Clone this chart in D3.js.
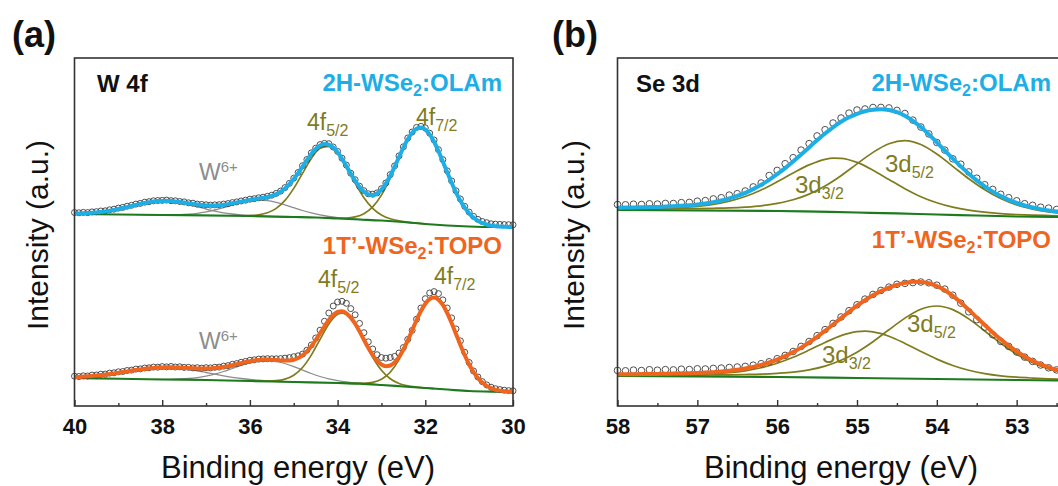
<!DOCTYPE html>
<html><head><meta charset="utf-8">
<script src="https://cdn.jsdelivr.net/npm/d3@7"></script>
<style>body{margin:0;background:#fff}svg{display:block}</style>
</head><body>
<svg id="chart" width="1058" height="486"></svg>
<script>
// ---------------- DATA (intensity in a.u.) ----------------
const energyW = [40,39.9,39.8,39.7,39.6,39.5,39.4,39.3,39.2,39.1,39,38.9,38.8,38.7,38.6,38.5,38.4,38.3,38.2,38.1,38,37.9,37.8,37.7,37.6,37.5,37.4,37.3,37.2,37.1,37,36.9,36.8,36.7,36.6,36.5,36.4,36.3,36.2,36.1,36,35.9,35.8,35.7,35.6,35.5,35.4,35.3,35.2,35.1,35,34.9,34.8,34.7,34.6,34.5,34.4,34.3,34.2,34.1,34,33.9,33.8,33.7,33.6,33.5,33.4,33.3,33.2,33.1,33,32.9,32.8,32.7,32.6,32.5,32.4,32.3,32.2,32.1,32,31.9,31.8,31.7,31.6,31.5,31.4,31.3,31.2,31.1,31,30.9,30.8,30.7,30.6,30.5,30.4,30.3,30.2,30.1,30];

// W 4f, 2H-WSe2:OLAm
const w2hFit = [192.4,192.5,192.7,192.9,193.2,193.6,194.0,194.6,195.3,196.1,197.0,198.0,198.9,200.1,201.1,202.1,203.1,203.8,204.5,204.9,205.1,205.2,204.9,204.6,204.0,203.4,202.7,202.1,201.4,200.9,200.6,200.5,200.5,200.8,201.2,201.9,202.8,203.6,204.4,205.3,206.1,206.8,207.5,208.2,209.0,210.2,211.9,214.3,217.6,221.8,226.9,232.9,239.3,245.9,252.0,257.1,260.5,261.9,261.3,258.4,253.7,247.3,239.9,232.4,225.3,219.0,214.4,211.6,210.9,212.5,216.4,222.4,230.2,239.2,248.8,258.3,266.7,273.2,277.2,278.4,276.4,271.6,264.2,254.9,244.5,233.7,223.3,213.7,205.3,198.3,192.7,188.4,185.3,183.0,181.5,180.4,179.8,179.5,179.3,179.1,179.0];
const w2hObs = [193.5,193.2,193.6,193.4,194.1,194.3,195.0,195.2,196.2,196.8,197.9,198.6,199.8,200.7,201.9,202.6,203.8,204.3,205.2,205.5,205.6,205.9,205.3,205.2,204.5,204.1,203.2,202.8,201.9,201.6,201.2,200.9,201.1,201.3,201.9,202.4,203.4,204.1,205.0,205.8,206.8,207.3,208.2,208.8,209.7,210.8,212.6,214.9,218.4,222.6,227.8,233.5,240.3,246.5,253.1,257.8,261.4,262.6,262.3,259.0,254.6,247.8,240.9,232.8,226.3,219.8,215.3,212.2,211.8,213.1,217.3,223.0,231.4,240.1,250.1,259.2,268.0,274.0,278.6,279.6,278.1,272.8,266.0,256.3,246.4,235.2,225.1,215.2,207.0,199.6,193.9,189.6,186.6,184.5,183.3,182.2,181.8,181.6,181.4,181.3,181.2];
const w2hBase = [[40,192],[38,191],[36,190],[35,189],[34.5,188.5],[34,187.5],[33.5,186.5],[33,185.5],[32.5,184],[32,182],[31.5,180.5],[31,179.5],[30.5,179],[30,179]];
const w2hW6a = [[40,192.4],[39.8,192.7],[39.6,193.2],[39.4,194.0],[39.2,195.3],[39,197.0],[38.8,198.9],[38.6,201.1],[38.4,203.0],[38.2,204.4],[38,205.0],[37.8,204.6],[37.6,203.4],[37.4,201.5],[37.2,199.3],[37,197.0],[36.8,194.9],[36.6,193.2],[36.4,192.0],[36.2,191.1],[36,190.5],[35.8,190.1],[35.6,189.7],[35.4,189.45],[35.2,189.2]];
const w2hW6b = [[38.6,191.3],[38.4,191.25],[38.2,191.2],[38,191.1],[37.8,191.2],[37.6,191.4],[37.4,191.9],[37.2,192.7],[37,194.1],[36.8,196.0],[36.6,198.3],[36.4,200.9],[36.2,203.3],[36,205.1],[35.8,205.8],[35.6,205.3],[35.4,203.6],[35.2,201.2],[35,198.3],[34.8,195.5],[34.6,193.1],[34.4,191.1],[34.2,189.5],[34,188.35],[33.8,187.5],[33.6,186.9],[33.4,186.4],[33.2,185.9]];
const w2h4f52 = [[36.2,190.2],[36,190.5],[35.8,191.2],[35.6,193.2],[35.4,197.6],[35.2,205.6],[35,217.6],[34.8,232.6],[34.6,247.5],[34.4,257.7],[34.2,259.6],[34,252.5],[33.8,238.7],[33.6,222.7],[33.4,208.3],[33.2,197.7],[33,191.0],[32.8,187.2],[32.6,185.1],[32.4,183.9],[32.2,182.9],[32,182.0]];
const w2h4f72 = [[34.2,188.0],[34,187.8],[33.8,187.9],[33.6,189.1],[33.4,192.3],[33.2,199.1],[33,210.9],[32.8,227.9],[32.6,248.0],[32.4,266.4],[32.2,277.2],[32.1,278.4],[32,276.4],[31.8,264.2],[31.6,244.5],[31.4,223.3],[31.2,205.3],[31,192.7],[30.8,185.3],[30.6,181.5],[30.4,179.8],[30.2,179.3],[30,179.0]];

// W 4f, 1T'-WSe2:TOPO
const w1tFit = [29.0,29.1,29.4,29.7,30.0,30.4,30.9,31.4,32.0,32.6,33.3,34.0,34.6,35.4,36.0,36.6,37.2,37.7,38.1,38.4,38.6,38.7,38.7,38.6,38.4,38.2,37.9,37.7,37.5,37.4,37.5,37.6,37.9,38.4,39.1,39.9,40.9,41.9,42.9,44.0,44.9,45.6,46.1,46.4,46.5,46.3,45.9,45.6,45.4,45.6,46.3,48.0,50.7,54.6,59.8,66.0,72.8,79.7,86.0,91.0,94.0,94.7,92.7,88.4,82.2,74.6,66.3,58.2,51.0,45.3,41.5,39.8,40.5,43.6,49.0,56.5,65.6,75.6,85.8,95.0,102.3,107.0,108.4,106.4,101.1,93.0,83.1,72.1,61.1,50.7,41.5,34.0,28.0,23.4,20.1,17.8,16.3,15.4,14.8,14.4,14.2];
const w1tObs = [29.8,29.5,30.2,30.0,30.9,31.0,31.8,31.9,32.9,33.2,34.2,34.5,35.5,35.9,36.9,37.1,38.0,38.2,38.9,38.8,39.4,39.1,39.5,39.0,39.2,38.6,38.7,38.1,38.3,37.9,38.3,38.1,38.7,38.9,39.9,40.4,41.7,42.4,43.7,44.6,45.7,46.2,46.9,47.1,47.3,47.2,47.2,47.4,47.9,48.4,49.3,50.2,51.9,55.8,61.0,68.0,75.8,84.7,93.0,100.0,104.0,104.7,102.7,97.4,91.2,82.6,73.3,64.2,57.0,51.3,48.5,47.8,48.5,49.6,53.0,58.5,66.6,75.6,86.8,98.0,107.3,113.0,114.4,112.4,106.1,98.0,88.1,77.1,65.1,53.7,43.5,35.0,29.0,24.4,21.1,18.8,17.3,16.4,15.8,15.4,15.2];
const w1tBase = [[40,28],[39,27.25],[38,26.5],[37,26],[36,25],[35,24],[34,23],[33.5,22.3],[33,21],[32.5,19.5],[32,18],[31.5,16.5],[31,15],[30.5,14.3],[30,14]];
const w1tW6a = [[40,29.0],[39.8,29.4],[39.6,30.0],[39.4,30.9],[39.2,32.0],[39,33.25],[38.8,34.6],[38.6,36.0],[38.4,37.2],[38.2,38.05],[38,38.4],[37.8,38.3],[37.6,37.7],[37.4,36.6],[37.2,35.2],[37,33.5],[36.8,31.8],[36.6,30.2],[36.4,28.7],[36.2,27.5],[36,26.5],[35.8,25.8],[35.6,25.2],[35.4,24.7],[35.2,24.4],[35,24.1],[34.8,23.85]];
const w1tW6b = [[38.2,26.7],[38,26.65],[37.8,26.7],[37.6,27.0],[37.4,27.5],[37.2,28.45],[37,29.9],[36.8,31.9],[36.6,34.5],[36.4,37.5],[36.2,40.6],[36,43.3],[35.8,45.1],[35.6,45.6],[35.4,44.7],[35.2,42.5],[35,39.4],[34.8,35.9],[34.6,32.5],[34.4,29.5],[34.2,27.1],[34,25.35],[33.8,24.0],[33.6,23.1],[33.4,22.4],[33.2,21.7],[33,21.06]];
const w1t4f52 = [[36,25.0],[35.8,24.9],[35.6,24.9],[35.4,25.3],[35.2,26.9],[35,30.8],[34.8,38.5],[34.6,50.85],[34.4,66.65],[34.2,82.1],[34,91.7],[33.9,92.9],[33.8,91.4],[33.6,81.3],[33.4,65.3],[33.2,48.8],[33,35.7],[32.8,27.2],[32.6,22.5],[32.4,20.1],[32.2,18.9],[32,18.1],[31.8,17.4]];
const w1t4f72 = [[33.8,22.8],[33.6,22.6],[33.4,22.7],[33.2,23.6],[33,26.7],[32.8,33.7],[32.6,46.3],[32.4,64.7],[32.2,85.5],[32,102.3],[31.8,108.4],[31.6,101.1],[31.4,83.1],[31.2,61.1],[31,41.5],[30.8,28.0],[30.6,20.1],[30.4,16.3],[30.2,14.8],[30,14.2]];

const energySe = [58,57.9,57.8,57.7,57.6,57.5,57.4,57.3,57.2,57.1,57,56.9,56.8,56.7,56.6,56.5,56.4,56.3,56.2,56.1,56,55.9,55.8,55.7,55.6,55.5,55.4,55.3,55.2,55.1,55,54.9,54.8,54.7,54.6,54.5,54.4,54.3,54.2,54.1,54,53.9,53.8,53.7,53.6,53.5,53.4,53.3,53.2,53.1,53,52.9,52.8,52.7,52.6,52.5,52.4,52.3,52.2,52.1,52];

// Se 3d, 2H-WSe2:OLAm
const se2hFit = [198.3,198.4,198.5,198.7,198.9,199.1,199.4,199.7,200.2,200.8,201.6,202.6,203.9,205.5,207.6,210.1,213.2,216.9,221.2,226.2,231.8,237.9,244.5,251.5,258.6,265.8,272.5,278.7,284.2,288.7,292.2,294.8,296.3,296.8,296.0,293.9,290.3,285.2,278.9,271.6,263.7,255.5,247.4,239.6,232.3,225.6,219.6,214.4,209.9,206.1,203.0,200.5,198.5,196.9,195.6,194.6,193.8,193.1,192.6,192.1,191.7];
const se2hObs = [201.5,201.2,201.8,201.5,202.2,201.9,202.6,202.5,203.4,203.6,204.8,205.4,207.1,208.3,210.9,212.3,215.0,219.1,223.0,230.5,235.6,242.3,248.3,255.9,262.4,270.1,276.3,283.0,288.0,292.9,296.0,297.0,298.5,298.6,298.1,295.6,292.5,285.9,279.0,272.1,263.5,255.9,247.2,241.8,234.1,227.8,221.3,216.6,211.7,208.3,205.2,202.3,200.7,198.8,197.9,196.5,196.0,195.0,194.8,194.0,193.8];
const se2hBase = [[58,196],[57,195.5],[56,195],[55.5,194.3],[55,193.5],[54.5,192.6],[54,191.5],[53.5,190.5],[53,189.5],[52.5,189],[52,188.5]];
const se2h3d52 = [[58,197.0],[57.8,197.05],[57.6,197.1],[57.4,197.15],[57.2,197.3],[57,197.4],[56.8,197.7],[56.6,198.1],[56.4,198.9],[56.2,200.2],[56,202.6],[55.8,206.2],[55.6,211.9],[55.4,220.0],[55.2,230.3],[55,242.1],[54.8,253.6],[54.6,262.3],[54.4,265.4],[54.2,261.5],[54,252.0],[53.8,239.7],[53.6,227.2],[53.4,216.2],[53.2,207.4],[53,201.0],[52.8,196.9],[52.6,194.2],[52.4,192.6],[52.2,191.5],[52,190.8]];
const se2h3d32 = [[58,197.3],[57.8,197.4],[57.6,197.6],[57.4,197.9],[57.2,198.55],[57,199.7],[56.8,201.6],[56.6,204.8],[56.4,209.5],[56.2,216.05],[56,224.2],[55.8,233.0],[55.6,241.1],[55.4,246.7],[55.3,247.8],[55.2,247.65],[55,243.6],[54.8,235.8],[54.6,226.5],[54.4,217.3],[54.2,209.3],[54,203.2],[53.8,198.8],[53.6,195.8],[53.4,193.8],[53.2,192.4],[53,191.5],[52.8,190.9],[52.6,190.5],[52.4,190.1],[52.2,189.7],[52,189.4]];

// Se 3d, 1T'-WSe2:TOPO
const se1tFit = [31.7,31.8,31.8,31.9,32.0,32.1,32.2,32.4,32.5,32.7,33.0,33.4,33.8,34.5,35.2,36.2,37.5,39.1,41.1,43.5,46.4,49.9,53.9,58.4,63.5,69.1,75.2,81.5,87.9,94.2,100.3,105.8,110.7,114.9,118.4,121.2,123.1,124.2,124.1,122.7,119.9,115.7,110.1,103.5,96.2,88.6,81.0,73.6,66.7,60.3,54.6,49.6,45.3,41.7,38.7,36.3,34.3,32.8,31.5,30.5,29.7];
const se1tObs = [35.6,35.2,35.9,35.5,36.3,35.8,36.4,36.1,36.8,36.5,37.2,37.0,37.6,37.9,38.5,39.0,39.6,40.8,42.3,44.2,47.3,50.6,54.5,59.6,64.5,70.3,76.4,82.6,89.0,95.3,101.2,106.9,111.6,115.6,118.9,121.7,122.6,123.4,124.0,123.2,120.8,116.9,110.8,102.8,94.2,86.3,78.8,71.3,64.6,59.6,54.0,48.9,44.6,41.0,38.2,36.1,34.5,33.2,32.1,31.2,30.5];
const se1tBase = [[58,30],[57,29.5],[56,29],[55,28],[54,27],[53,26],[52,25]];
const se1t3d52 = [[58,30.8],[57.8,30.8],[57.6,30.8],[57.4,30.85],[57.2,30.9],[57,30.95],[56.8,31.1],[56.6,31.2],[56.4,31.5],[56.2,31.9],[56,32.7],[55.8,33.9],[55.6,36.2],[55.4,39.9],[55.2,45.7],[55,53.85],[54.8,64.3],[54.6,76.2],[54.4,87.9],[54.2,96.75],[54,100.0],[53.8,96.35],[53.6,87.1],[53.4,75.0],[53.2,62.7],[53,51.85],[52.8,43.3],[52.6,37.1],[52.4,33.0],[52.2,30.3],[52,28.7]];
const se1t3d32 = [[58,30.9],[57.8,30.9],[57.6,30.95],[57.4,31.05],[57.2,31.2],[57,31.6],[56.8,32.2],[56.6,33.3],[56.4,35.2],[56.2,38.25],[56,42.75],[55.8,48.7],[55.6,55.9],[55.4,63.6],[55.2,70.4],[55,74.4],[54.9,74.9],[54.8,74.2],[54.6,69.8],[54.4,62.6],[54.2,54.5],[54,46.9],[53.8,40.55],[53.6,35.75],[53.4,32.4],[53.2,30.2],[53,28.8],[52.8,27.9],[52.6,27.2],[52.4,26.75],[52.2,26.35],[52,26.0]];

const ticksW = [40,38,36,34,32,30];
const minorW = [39,37,35,33,31];
const ticksSe = [58,57,56,55,54,53];
const minorSe = [57.5,56.5,55.5,54.5,53.5,52.5];

// ---------------- DRAWING ----------------
const FONT = "'Liberation Sans', Arial, Helvetica, sans-serif";
const C = {cyan:"#1eaee6", orange:"#f0651e", olive:"#7f7c1d", green:"#1d7a1d", gray:"#8c8c8c", frame:"#333333"};
const svg = d3.select("#chart");
svg.append("rect").attr("width",1058).attr("height",486).attr("fill","#fff");
const yScale = d3.scaleLinear().domain([0,348]).range([406,58]);
const zip = (E, V) => E.map((e,i)=>[e, V[i]]);

function rich(parent, x, y, parts, o) {
  const t = parent.append("text").attr("x",x).attr("y",y)
    .attr("font-family",FONT).attr("font-size",o.size).attr("fill",o.color)
    .attr("font-weight",o.bold?"bold":"normal").attr("text-anchor",o.anchor||"start");
  let shift = 0;
  parts.forEach(p => {
    let target = 0, size = o.size;
    if (p.sub) { target = o.subShift || 6; size = o.subSize || Math.round(o.size*0.68); }
    if (p.sup) { target = -(o.supShift || 9); size = o.supSize || Math.round(o.size*0.68); }
    t.append("tspan").attr("dy", target - shift).attr("font-size", size).text(p.t);
    shift = target;
  });
  return t;
}

function drawPanel(o) {
  const x = d3.scaleLinear().domain(o.domain).range(o.range);
  const g = svg.append("g");
  const line = d3.line().x(d=>x(d[0])).y(d=>yScale(d[1])).curve(d3.curveMonotoneX);
  o.spectra.forEach(s => {
    s.gray.forEach(c => g.append("path").attr("d", line(c)).attr("fill","none").attr("stroke",C.gray).attr("stroke-width",1.3));
    s.olive.forEach(c => g.append("path").attr("d", line(c)).attr("fill","none").attr("stroke",C.olive).attr("stroke-width",1.7));
    g.append("path").attr("d", line(s.base)).attr("fill","none").attr("stroke",C.green).attr("stroke-width",2.2);
    g.append("g").selectAll("circle").data(zip(o.energy, s.obs)).join("circle")
      .attr("cx", d=>x(d[0])).attr("cy", d=>yScale(d[1])).attr("r", o.r)
      .attr("fill","none").attr("stroke","#3c3c3c").attr("stroke-width",0.9);
    g.append("path").attr("d", line(zip(o.energy, s.fit))).attr("fill","none")
      .attr("stroke", s.color).attr("stroke-width",4).attr("stroke-linejoin","round");
  });
  g.append("rect").attr("x", o.range[0]).attr("y",58).attr("width", o.range[1]-o.range[0]).attr("height",348)
    .attr("fill","none").attr("stroke",C.frame).attr("stroke-width",1.6);
  const ax = d3.axisBottom(x).tickValues(o.major).tickSize(-6).tickPadding(12).tickFormat(d3.format("d"));
  const axg = g.append("g").attr("transform","translate(0,406)").call(ax);
  axg.select(".domain").remove();
  axg.attr("font-family",FONT).attr("font-size",22).attr("font-weight","bold").attr("color","#111");
  axg.selectAll("line").attr("stroke",C.frame).attr("stroke-width",1.4);
  const mx = d3.axisBottom(x).tickValues(o.minor).tickSize(-3).tickFormat("");
  const mxg = g.append("g").attr("transform","translate(0,406)").call(mx);
  mxg.select(".domain").remove();
  mxg.selectAll("line").attr("stroke",C.frame).attr("stroke-width",1.4);
  // axis titles
  g.append("text").attr("x", o.xTitleX).attr("y",478).attr("text-anchor","middle")
    .attr("font-family",FONT).attr("font-size",31).attr("fill","#111").text("Binding energy (eV)");
  g.append("text").attr("transform",`translate(${o.yTitleX},235) rotate(-90)`).attr("text-anchor","middle")
    .attr("font-family",FONT).attr("font-size",30).attr("fill","#111").text("Intensity (a.u.)");
  g.append("text").attr("x",o.tag[0]).attr("y",47).attr("font-family",FONT).attr("font-size",36)
    .attr("font-weight","bold").attr("fill","#111").text(o.tag[1]);
  return g;
}

// Panel (a)
const ga = drawPanel({
  domain:[40,30], range:[74.5,513], energy: energyW, r:3,
  major: ticksW, minor: minorW, xTitleX: 298, yTitleX: 48, tag:[12,"(a)"],
  spectra:[
    {fit:w2hFit, obs:w2hObs, base:w2hBase, gray:[w2hW6a,w2hW6b], olive:[w2h4f52,w2h4f72], color:C.cyan},
    {fit:w1tFit, obs:w1tObs, base:w1tBase, gray:[w1tW6a,w1tW6b], olive:[w1t4f52,w1t4f72], color:C.orange}
  ]
});
rich(ga, 97, 92, [{t:"W 4f"}], {size:24, bold:true, color:"#111"});
rich(ga, 502, 91, [{t:"2H-WSe"},{t:"2",sub:true},{t:":OLAm"}], {size:24, bold:true, color:C.cyan, anchor:"end", subSize:16, subShift:5});
rich(ga, 502, 254, [{t:"1T\u2019-WSe"},{t:"2",sub:true},{t:":TOPO"}], {size:24, bold:true, color:C.orange, anchor:"end", subSize:16, subShift:5});
rich(ga, 199, 180, [{t:"W"},{t:"6+",sup:true}], {size:23, color:C.gray, supSize:15, supShift:8});
rich(ga, 199, 349, [{t:"W"},{t:"6+",sup:true}], {size:23, color:C.gray, supSize:15, supShift:8});
rich(ga, 307, 130, [{t:"4f"},{t:"5/2",sub:true}], {size:23, color:C.olive, subSize:16, subShift:6});
rich(ga, 416, 125, [{t:"4f"},{t:"7/2",sub:true}], {size:23, color:C.olive, subSize:16, subShift:6});
rich(ga, 318, 287, [{t:"4f"},{t:"5/2",sub:true}], {size:23, color:C.olive, subSize:16, subShift:6});
rich(ga, 434, 284, [{t:"4f"},{t:"7/2",sub:true}], {size:23, color:C.olive, subSize:16, subShift:6});

// Panel (b)
const gb = drawPanel({
  domain:[58,52], range:[617.5,1096.5], energy: energySe, r:3.3,
  major: ticksSe, minor: minorSe, xTitleX: 841, yTitleX: 584, tag:[552,"(b)"],
  spectra:[
    {fit:se2hFit, obs:se2hObs, base:se2hBase, gray:[], olive:[se2h3d52,se2h3d32], color:C.cyan},
    {fit:se1tFit, obs:se1tObs, base:se1tBase, gray:[], olive:[se1t3d52,se1t3d32], color:C.orange}
  ]
});
rich(gb, 636, 92, [{t:"Se 3d"}], {size:24, bold:true, color:"#111"});
rich(gb, 1051, 91, [{t:"2H-WSe"},{t:"2",sub:true},{t:":OLAm"}], {size:24, bold:true, color:C.cyan, anchor:"end", subSize:16, subShift:5});
rich(gb, 1051, 248, [{t:"1T\u2019-WSe"},{t:"2",sub:true},{t:":TOPO"}], {size:24, bold:true, color:C.orange, anchor:"end", subSize:16, subShift:5});
rich(gb, 885, 172, [{t:"3d"},{t:"5/2",sub:true}], {size:24, color:C.olive, subSize:16, subShift:6});
rich(gb, 795, 193, [{t:"3d"},{t:"3/2",sub:true}], {size:24, color:C.olive, subSize:16, subShift:6});
rich(gb, 907, 332, [{t:"3d"},{t:"5/2",sub:true}], {size:24, color:C.olive, subSize:16, subShift:6});
rich(gb, 822, 363, [{t:"3d"},{t:"3/2",sub:true}], {size:24, color:C.olive, subSize:16, subShift:6});
</script>
</body></html>
